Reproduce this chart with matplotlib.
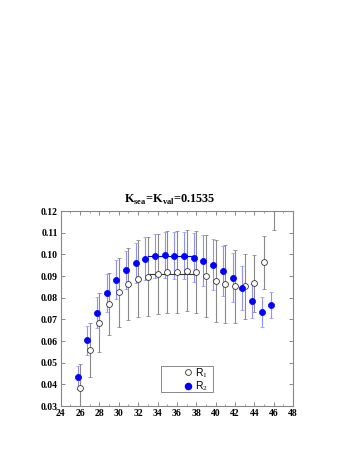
import matplotlib
matplotlib.use("Agg")
import matplotlib.pyplot as plt
from matplotlib.ticker import MultipleLocator
from matplotlib.lines import Line2D
from matplotlib.patches import Rectangle

# R1 (open circles), x = 26..46
x1 = [26, 27, 28, 29, 30, 31, 32, 33, 34, 35, 36, 37, 38, 39, 40, 41, 42, 43, 44, 45, 46]
y1 = [0.0385, 0.0557, 0.0685, 0.0771, 0.0825, 0.0862, 0.0888, 0.0897, 0.0908, 0.0917, 0.0917,
      0.0925, 0.0918, 0.0900, 0.0878, 0.0863, 0.0852, 0.0852, 0.0866, 0.0963, 0.1260]
e1 = [0.0110, 0.0124, 0.0136, 0.0144, 0.0160, 0.0167, 0.0178, 0.0182, 0.0185, 0.0190, 0.0189,
      0.0188, 0.0188, 0.0187, 0.0188, 0.0178, 0.0167, 0.0150, 0.0130, 0.0123, 0.0148]

# R2 (filled circles), x = 25.75..45.75
x2 = [25.75, 26.75, 27.75, 28.75, 29.75, 30.75, 31.75, 32.75, 33.75, 34.75, 35.75,
      36.75, 37.75, 38.75, 39.75, 40.75, 41.75, 42.75, 43.75, 44.75, 45.75]
y2 = [0.0432, 0.0603, 0.0731, 0.0820, 0.0883, 0.0928, 0.0960, 0.0980, 0.0994, 0.0998, 0.0994,
      0.0994, 0.0985, 0.0971, 0.0952, 0.0925, 0.0892, 0.0845, 0.0783, 0.0732, 0.0766]
e2 = [0.0054, 0.0067, 0.0070, 0.0088, 0.0090, 0.0088, 0.0093, 0.0098, 0.0101, 0.0105, 0.0108,
      0.0110, 0.0114, 0.0117, 0.0118, 0.0115, 0.0113, 0.0100, 0.0078, 0.0069, 0.0060]

# plateau fits
fit_x = [33, 38]
fit1 = 0.0911
fit2 = 0.0993

plt.rcParams['font.family'] = ['Liberation Serif', 'DejaVu Serif']
plt.rcParams['mathtext.fontset'] = 'custom'
plt.rcParams['mathtext.rm'] = 'Liberation Serif'
plt.rcParams['mathtext.bf'] = 'Liberation Serif:bold'

fig = plt.figure(figsize=(3.54, 4.58), dpi=100)
ax = fig.add_axes([0.1715, 0.1135, 0.6562, 0.4258])

ax.errorbar(x1, y1, yerr=e1, fmt='o', ms=4.2, mfc='white', mec='#333333', mew=0.6,
            ecolor='#8a8a8a', elinewidth=0.8, capsize=1.5, capthick=0.6)
ax.errorbar(x2, y2, yerr=e2, fmt='o', ms=4.4, mfc='#0000ff', mec='#0000ff', mew=0.5,
            ecolor='#8f8fff', elinewidth=0.8, capsize=1.5, capthick=0.6)
ax.plot(fit_x, [fit1, fit1], color='#333333', lw=0.8)
ax.plot(fit_x, [fit2, fit2], color='#0000ff', lw=0.8)

ax.set_xlim(24, 48)
ax.set_ylim(0.03, 0.12)
ax.xaxis.set_major_locator(MultipleLocator(2))
ax.xaxis.set_minor_locator(MultipleLocator(1))
ax.yaxis.set_major_locator(MultipleLocator(0.01))
ax.yaxis.set_major_formatter(plt.FormatStrFormatter('%.2f'))
ax.tick_params(which='both', direction='in', top=True, right=True, color='#777777',
               labelsize=7, pad=2)
ax.tick_params(which='major', length=3, width=0.6)
ax.tick_params(which='minor', length=1.5, width=0.5)
for lab in ax.get_xticklabels() + ax.get_yticklabels():
    lab.set_fontweight('bold')
for s in ax.spines.values():
    s.set_color('#888888')
    s.set_linewidth(0.8)

ax.set_title(r'K$_{\mathbf{sea}}$=K$_{\mathbf{val}}$=0.1535', fontsize=8.8,
             fontweight='bold', pad=6, x=0.468)

# legend: markers only, inside a plain box
handles = [Line2D([], [], ls='none', marker='o', ms=4.2, mfc='white', mec='#333333', mew=0.6),
           Line2D([], [], ls='none', marker='o', ms=4.4, mfc='#0000ff', mec='#0000ff')]
ax.legend(handles, ['R$_1$', 'R$_2$'], loc='center left', bbox_to_anchor=(0.506, 0.135),
          frameon=False, handlelength=0.8, handletextpad=0.35, borderpad=0,
          labelspacing=0.0, prop={'family': 'Liberation Sans', 'size': 7.5})
ax.add_patch(Rectangle((0.4305, 0.070), 0.2235, 0.1336, transform=ax.transAxes,
                       fill=False, ec='#888888', lw=0.7))

fig.savefig('out.png', dpi=100)
